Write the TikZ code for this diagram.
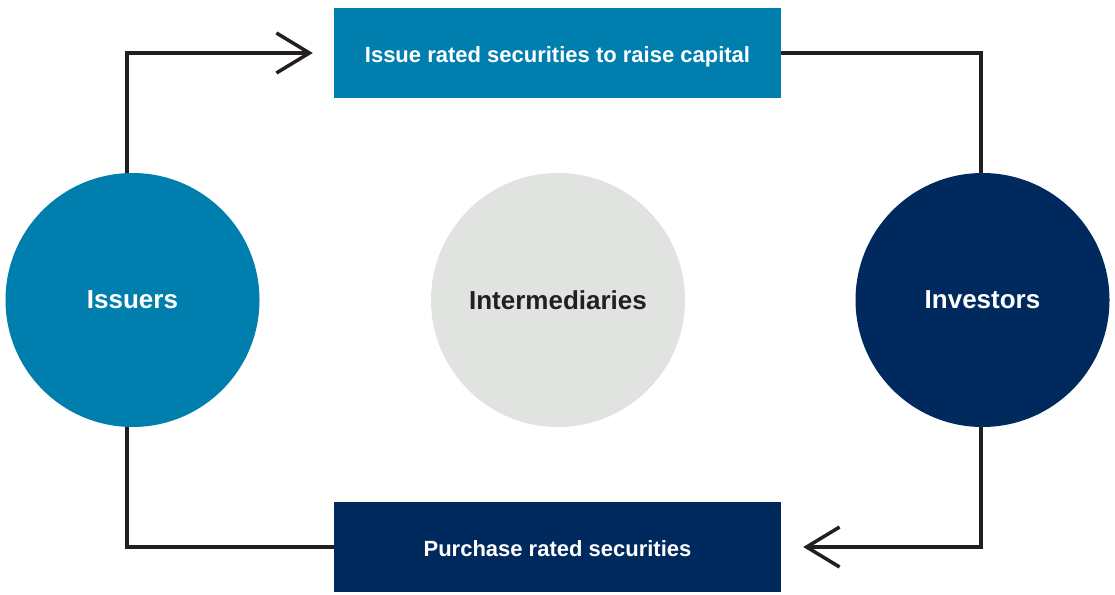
\documentclass[tikz,border=0pt]{standalone}
\usepackage{fontspec}
\setmainfont{Liberation Sans}
\usetikzlibrary{arrows.meta}
\definecolor{spblue}{HTML}{007FAF}
\definecolor{spnavy}{HTML}{002A5E}
\definecolor{spgrey}{HTML}{E1E3E1}
\definecolor{spline}{HTML}{231F20}
\newcommand{\boxtext}[1]{\raisebox{-9.5pt}[0pt][0pt]{#1}}
\begin{document}
\begin{tikzpicture}[x=1pt,y=-1pt,
  actor/.style={circle, draw=none, inner sep=0pt, minimum size=254pt, font=\fontsize{26}{30}\selectfont\bfseries},
  stepbox/.style={rectangle, draw=none, inner sep=0pt, minimum width=447pt, minimum height=90pt, text=white, font=\fontsize{22}{26}\selectfont\bfseries},
  link/.style={draw=spline, line width=3.5pt},
  flow/.style={link, -{Straight Barb[length=33pt,width=40pt,line width=3.5pt]}}
]
\useasboundingbox (0,0) rectangle (1115,594);
\node[actor, fill=spblue, text=white] (iss) at (132.5,300) {Issuers};
\node[actor, fill=spgrey, text=spline] (mid) at (558,300) {Intermediaries};
\node[actor, fill=spnavy, text=white] (inv) at (982.5,300) {Investors};
\node[stepbox, fill=spblue] (top) at (557.5,53) {\boxtext{Issue rated securities to raise capital}};
\node[stepbox, fill=spnavy] (bot) at (557.5,547) {\boxtext{Purchase rated securities}};
\draw[flow] ([xshift=-5.5pt]iss.north) |- ([xshift=-21pt]top.west);
\draw[link] (top.east) -| ([xshift=-1.5pt]inv.north);
\draw[flow] ([xshift=-1.5pt]inv.south) |- ([xshift=22pt]bot.east);
\draw[link] (bot.west) -| ([xshift=-5.5pt]iss.south);
\end{tikzpicture}
\end{document}
